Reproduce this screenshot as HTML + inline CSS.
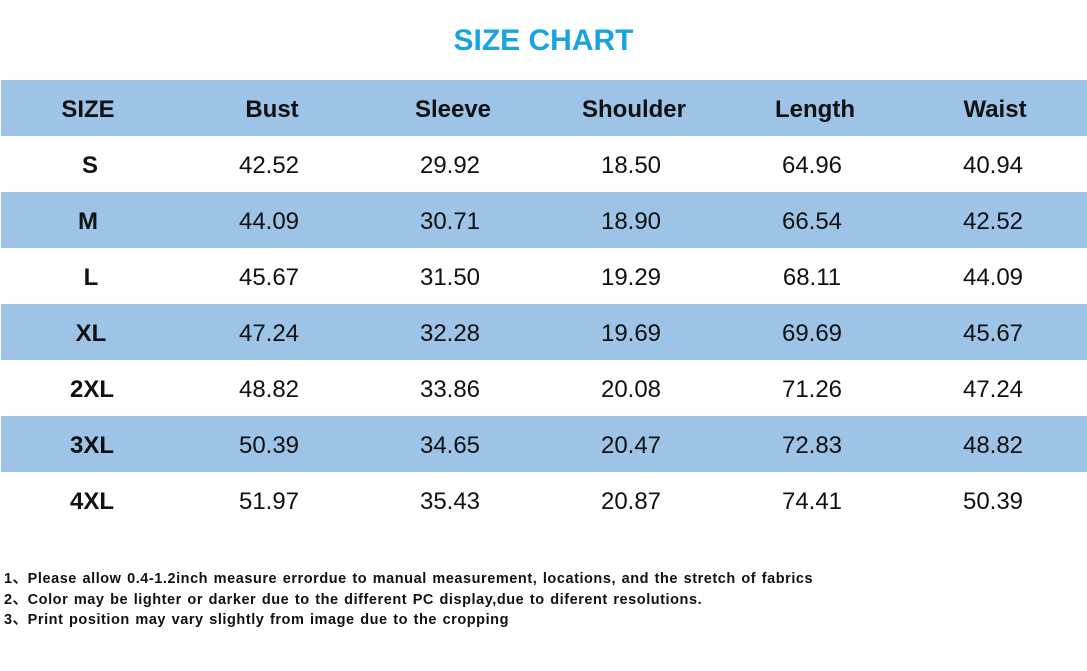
<!DOCTYPE html>
<html><head><meta charset="utf-8"><style>
body{margin:0;width:1087px;height:671px;background:#fff;position:relative;overflow:hidden;font-family:"Liberation Sans",sans-serif}
.t{position:absolute;top:23px;left:0;width:1087px;text-align:center;color:#19a4df;font-weight:bold;font-size:30px;line-height:36px}
.r{position:absolute;left:1px;width:1086px;height:56px}
.b{background:#9dc3e6}
.c{position:absolute;top:2px;height:56px;line-height:56px;width:180px;margin-left:-90px;text-align:center;font-size:24px;color:#111}
.h .c,.c.s{font-weight:bold}
.n{position:absolute;left:4px;font-size:14.5px;font-weight:bold;color:#111;line-height:18px;letter-spacing:0.55px;word-spacing:1px}
</style></head><body>
<div class="t">SIZE CHART</div>
<div class="r b h" style="top:80px"><div class="c" style="left:87px">SIZE</div><div class="c" style="left:271px">Bust</div><div class="c" style="left:452px">Sleeve</div><div class="c" style="left:633px">Shoulder</div><div class="c" style="left:814px">Length</div><div class="c" style="left:994px">Waist</div></div>
<div class="r" style="top:136px"><div class="c s" style="left:89px">S</div><div class="c" style="left:268px">42.52</div><div class="c" style="left:449px">29.92</div><div class="c" style="left:630px">18.50</div><div class="c" style="left:811px">64.96</div><div class="c" style="left:992px">40.94</div></div>
<div class="r b" style="top:192px"><div class="c s" style="left:87px">M</div><div class="c" style="left:268px">44.09</div><div class="c" style="left:449px">30.71</div><div class="c" style="left:630px">18.90</div><div class="c" style="left:811px">66.54</div><div class="c" style="left:992px">42.52</div></div>
<div class="r" style="top:248px"><div class="c s" style="left:90px">L</div><div class="c" style="left:268px">45.67</div><div class="c" style="left:449px">31.50</div><div class="c" style="left:630px">19.29</div><div class="c" style="left:811px">68.11</div><div class="c" style="left:992px">44.09</div></div>
<div class="r b" style="top:304px"><div class="c s" style="left:90px">XL</div><div class="c" style="left:268px">47.24</div><div class="c" style="left:449px">32.28</div><div class="c" style="left:630px">19.69</div><div class="c" style="left:811px">69.69</div><div class="c" style="left:992px">45.67</div></div>
<div class="r" style="top:360px"><div class="c s" style="left:91px">2XL</div><div class="c" style="left:268px">48.82</div><div class="c" style="left:449px">33.86</div><div class="c" style="left:630px">20.08</div><div class="c" style="left:811px">71.26</div><div class="c" style="left:992px">47.24</div></div>
<div class="r b" style="top:416px"><div class="c s" style="left:91px">3XL</div><div class="c" style="left:268px">50.39</div><div class="c" style="left:449px">34.65</div><div class="c" style="left:630px">20.47</div><div class="c" style="left:811px">72.83</div><div class="c" style="left:992px">48.82</div></div>
<div class="r" style="top:472px"><div class="c s" style="left:91px">4XL</div><div class="c" style="left:268px">51.97</div><div class="c" style="left:449px">35.43</div><div class="c" style="left:630px">20.87</div><div class="c" style="left:811px">74.41</div><div class="c" style="left:992px">50.39</div></div>
<div class="n" style="top:570px">1、Please allow 0.4-1.2inch measure errordue to manual measurement, locations, and the stretch of fabrics</div>
<div class="n" style="top:591px">2、Color may be lighter or darker due to the different PC display,due to diferent resolutions.</div>
<div class="n" style="top:611px">3、Print position may vary slightly from image due to the cropping</div>
</body></html>
